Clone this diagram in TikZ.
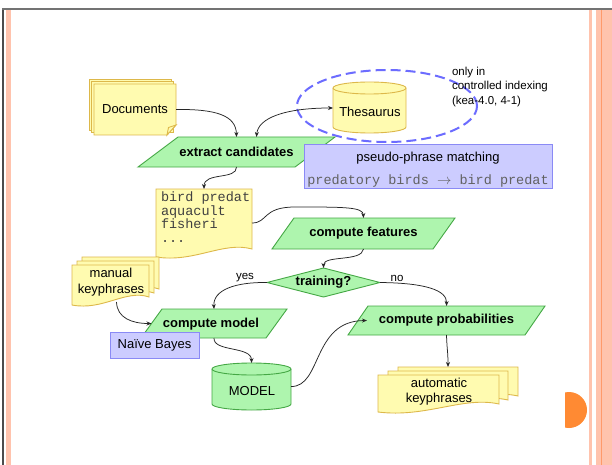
\documentclass[tikz,border=0pt]{standalone}
\usepackage{fontspec}
\setmainfont{Liberation Sans}
\setmonofont{Liberation Mono}
\usetikzlibrary{arrows.meta,calc}

\definecolor{sheetfill}{HTML}{FFFBB0}
\definecolor{sheetline}{HTML}{DDB84A}
\definecolor{procfill}{HTML}{AEF5AE}
\definecolor{procline}{HTML}{45A845}
\definecolor{notefill}{HTML}{CCCCFF}
\definecolor{noteline}{HTML}{8A8AF5}
\definecolor{dashblue}{HTML}{6C6CFF}
\definecolor{barpink}{HTML}{FFC3AD}
\definecolor{barorange}{HTML}{FF9A6A}
\definecolor{dotorange}{HTML}{FF8A33}

% a paper sheet with a wavy lower edge: left x, right x, top y, bottom-left y
\newcommand\docsheet[4]{\path[sheet] (#1,#3) -- (#2,#3) -- (#2,{#4-8})
  .. controls ({#2-0.3*(#2-#1)},{#4-16}) and ({#1+0.4*(#2-#1)},{#4+6}) .. (#1,#4) -- cycle;}

\tikzset{
  sheet/.style={fill=sheetfill, draw=sheetline, line width=0.9pt},
  proc/.style={fill=procfill, draw=procline, line width=0.9pt},
  note/.style={fill=notefill, draw=noteline, line width=1pt, inner sep=0pt},
  hub/.style={inner sep=0pt, outer sep=0pt},
  plain/.style={font=\fontsize{13}{15.5}\selectfont},
  strong/.style={font=\fontsize{13}{15.5}\selectfont\bfseries},
  small/.style={font=\fontsize{11.5}{14.5}\selectfont},
  code/.style={font=\fontsize{13.5}{13.5}\selectfont\ttfamily},
  ring/.style={draw=dashblue, line width=2pt, dash pattern=on 10pt off 5pt},
  conn/.style={-{Stealth[length=5pt,width=4pt]}, line width=0.75pt, black!85},
  biconn/.style={{Stealth[length=5pt,width=4pt]}-{Stealth[length=5pt,width=4pt]}, line width=0.75pt, black!85},
}

\begin{document}
\begin{tikzpicture}[x=1pt,y=-1pt]
\useasboundingbox (0,0) rectangle (612,465);
\fill[white] (0,0) rectangle (612,465);

% page frame
\fill[barpink] (6,9) rectangle (11,465);
\draw[line width=1.2pt, black!70] (3,9) -- (3,465);
\fill[barpink] (589,9) rectangle (592,465);
\fill[barpink] (596,9) rectangle (612,465);
\draw[barorange, line width=1pt] (601.5,9) -- (601.5,465);
\draw[line width=1.5pt, black!55] (2.3,9) -- (612,9);
\begin{scope}
  \clip (565,380) rectangle (600,440);
  \fill[dotorange] (569,410) circle[radius=18pt];
\end{scope}

% controlled-indexing ring
\draw[ring] (387,106) ellipse [x radius=90pt, y radius=36pt];
\node[hub, small, anchor=north west, align=left] (scopenote) at (452,67) {only in\\controlled indexing\\(kea-4.0, 4-1)};

% Documents stack
\path[sheet] (89,79) rectangle (171,130);
\path[sheet] (91.5,81.5) rectangle (173.5,132.5);
\path[sheet] (94,84) -- (176,84) -- (176,125) -- (167,135) -- (94,135) -- cycle;
\path[sheet] (176,125) -- (168.5,127.5) -- (167,135) -- cycle;
\node[hub, plain, minimum width=82pt, minimum height=51pt] (doc) at (135,109.5) {Documents};

% Thesaurus cylinder
\path[sheet] (333,88) -- (333,127) arc[start angle=180, end angle=360, x radius=36.5pt, y radius=6pt]
  -- (406,88) arc[start angle=0, end angle=180, x radius=36.5pt, y radius=6pt] -- cycle;
\draw[sheetline, line width=0.9pt] (333,88) arc[start angle=180, end angle=360, x radius=36.5pt, y radius=6pt];
\node[hub, minimum width=73pt, minimum height=51pt] (th) at (369.5,108) {};
\node[hub, plain] (thtext) at (370,112) {Thesaurus};

% extract candidates
\path[proc] (138,167) -- (178,137) -- (335,137) -- (295,167) -- cycle;
\node[hub, strong, minimum width=157pt, minimum height=30pt] (ec) at (236.5,152) {extract candidates};

% pseudo-phrase matching note
\node[note, minimum width=248pt, minimum height=43pt] (pp) at (428,166.5) {};
\node[hub, plain] (pptitle) at (428,158) {pseudo-phrase matching};
\node[hub, code, text=black!62] (ppexample) at (428,181) {predatory birds $\rightarrow$ bird predat};

% candidate list
\docsheet{156}{252}{189}{257}
\node[hub, minimum width=96pt, minimum height=68pt] (ld) at (204,223) {};
\node[hub, code, text=black!75, anchor=north west, align=left] (ldtext) at (161,192)
  {bird predat\\aquacult\\fisheri\\...};

% compute features
\path[proc] (272,249) -- (294,218) -- (455,218) -- (433,249) -- cycle;
\node[hub, strong, minimum width=161pt, minimum height=31pt] (cf) at (363.5,233.5) {compute features};

% training? decision
\path[proc] (267,282.5) -- (323.5,268) -- (380,282.5) -- (323.5,297) -- cycle;
\node[hub, strong, minimum width=113pt, minimum height=29pt] (tr) at (323.5,282.5) {training?};
\node[hub, small] (yes) at (245,278) {yes};
\node[hub, small] (no) at (397,278) {no};

% manual keyphrases stack
\docsheet{82}{159}{257}{297}
\docsheet{77}{154}{261}{301}
\docsheet{72}{149}{265}{305}
\node[hub, minimum width=77pt, minimum height=40pt] (mk) at (110.5,285) {};
\node[hub, plain, align=center] (mktext) at (111,282) {manual\\keyphrases};

% compute model
\path[proc] (141,338) -- (162,309) -- (287,309) -- (266,338) -- cycle;
\node[hub, minimum width=125pt, minimum height=29pt] (cm) at (214,323.5) {};
\node[hub, strong] (cmtext) at (211,324) {compute model};
\node[note, plain, minimum width=89pt, minimum height=26pt] (nb) at (154.5,345) {Naïve Bayes};

% MODEL cylinder
\path[proc] (212,369) -- (212,404) arc[start angle=180, end angle=360, x radius=39.5pt, y radius=6pt]
  -- (291,369) arc[start angle=0, end angle=180, x radius=39.5pt, y radius=6pt] -- cycle;
\draw[procline, line width=0.9pt] (212,369) arc[start angle=180, end angle=360, x radius=39.5pt, y radius=6pt];
\node[hub, minimum width=79pt, minimum height=47pt] (md) at (251.5,386.5) {};
\node[hub, plain] (mdtext) at (252,391) {MODEL};

% compute probabilities
\path[proc] (348,335) -- (368,306) -- (545,306) -- (525,335) -- cycle;
\node[hub, strong, minimum width=177pt, minimum height=29pt] (cp) at (446.5,320.5) {compute probabilities};

% automatic keyphrases stack
\docsheet{398}{518}{367}{404}
\docsheet{388}{508}{371}{408}
\docsheet{378}{499}{375}{412}
\node[hub, minimum width=140pt, minimum height=45pt] (ak) at (448,389.5) {};
\node[hub, plain, align=center] (aktext) at (439,391.5) {automatic\\keyphrases};

% connectors
\draw[conn] (doc.east) .. controls (215,109) and (236,115) .. (ec.north);
\draw[biconn] ($(ec.north)+(20,0)$) .. controls (258,118) and (285,108) .. (th.west);
\draw[conn] (ec.south) .. controls (237,180) and (204,172) .. (ld.north);
\draw[conn] (ld.east) .. controls (268,223) and (262,207) .. (295,207)
  .. controls (345,207) and (363,207) .. (cf.north);
\draw[conn] (cf.south) .. controls (362,262) and (323.5,255) .. (tr.north);
\draw[conn] (tr.west) .. controls (235,282) and (213,290) .. (cm.north);
\draw[conn] (tr.east) .. controls (425,283) and (447,290) .. (cp.north);
\draw[conn] ($(mk.south)+(6,-3)$) .. controls (117,318) and (132,323.5) .. (cm.west);
\draw[conn] (cm.south) .. controls (213,352) and (251.5,346) .. (md.north);
\draw[conn] (md.east) .. controls (322,387) and (312,321) .. ($(cp.west)+(9,0)$);
\draw[conn] (cp.south) .. controls (447,350) and (448,352) .. (ak.north);
\end{tikzpicture}
\end{document}
